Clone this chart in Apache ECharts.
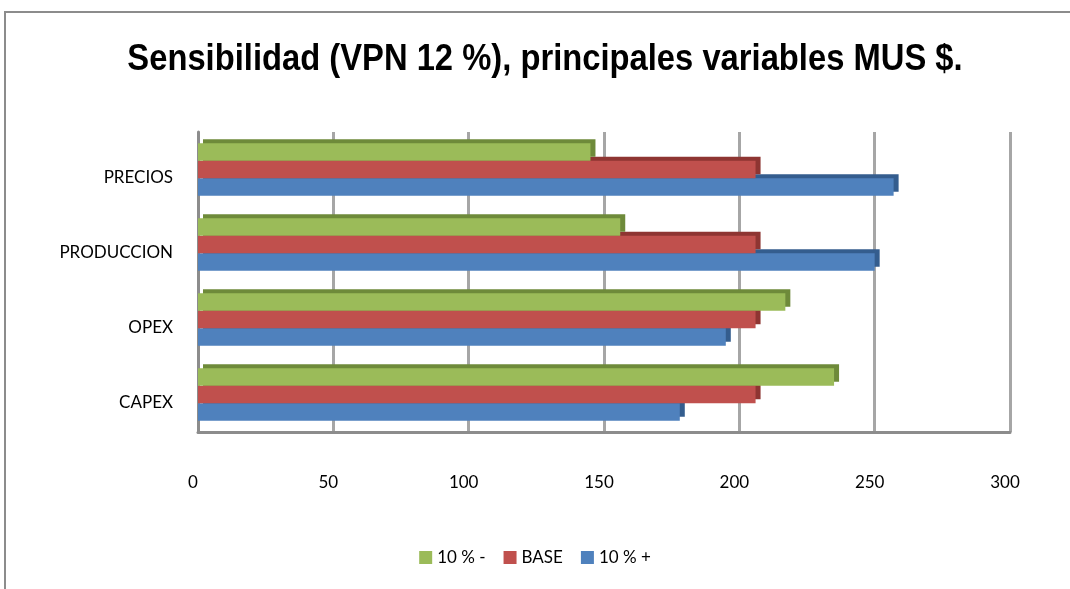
<!DOCTYPE html>
<html>
<head>
<meta charset="utf-8">
<script src="https://cdn.jsdelivr.net/npm/echarts@6/dist/echarts.min.js"></script>
<style>
  html, body { margin: 0; padding: 0; background: #ffffff; }
  #chart { width: 1070px; height: 589px; }
</style>
</head>
<body>
<div id="chart"></div>
<script>
// Sensitivity of NPV (12 %) to the main variables, in MUS $
var titleText = 'Sensibilidad (VPN 12 %), principales variables MUS $.';
var categories = ['CAPEX', 'OPEX', 'PRODUCCION', 'PRECIOS'];
var seriesNames = ['10 % -', 'BASE', '10 % +'];
var valuesMinus = [235, 217, 156, 145];   // 10 % -
var valuesBase  = [206, 206, 206, 206];   // BASE
var valuesPlus  = [178, 195, 250, 257];   // 10 % +
var axisTicks = [0, 50, 100, 150, 200, 250, 300];

var colors = {
  '10 % -': { face: '#9BBB59', side: '#6E8A3A' },
  'BASE':   { face: '#C0504D', side: '#8E3532' },
  '10 % +': { face: '#4F81BD', side: '#345D8E' }
};

// flat bar with a darker offset copy to suggest the top and end faces
function barSeries(name, data, z) {
  return {
    name: name,
    type: 'bar',
    data: data,
    z: z,
    barGap: '0%',
    barCategoryGap: '30%',
    itemStyle: {
      color: colors[name].face,
      shadowColor: colors[name].side,
      shadowBlur: 0,
      shadowOffsetX: 5,
      shadowOffsetY: -4
    },
    emphasis: { disabled: true }
  };
}

var labelFont = 'Lato, "Open Sans", sans-serif';

var chart = echarts.init(document.getElementById('chart'), null, { renderer: 'canvas' });

chart.setOption({
  animation: false,
  backgroundColor: '#ffffff',
  legend: {
    data: seriesNames,
    bottom: 18,
    left: 'center',
    itemWidth: 13,
    itemHeight: 13,
    itemGap: 18,
    icon: 'rect',
    textStyle: { fontFamily: labelFont, fontSize: 17, color: '#000000' }
  },
  grid: {
    left: 198,
    top: 132,
    width: 812,
    height: 300,
    containLabel: false
  },
  xAxis: {
    type: 'value',
    min: axisTicks[0],
    max: axisTicks[axisTicks.length - 1],
    interval: axisTicks[1] - axisTicks[0],
    axisLine: { show: true, lineStyle: { color: '#8c8c8c', width: 3 } },
    axisTick: { show: false },
    axisLabel: {
      margin: 42,
      fontFamily: labelFont,
      fontSize: 17,
      color: '#000000',
      padding: [0, 10, 0, 0]
    },
    splitLine: { show: true, lineStyle: { color: '#a6a6a6', width: 3 } }
  },
  yAxis: {
    type: 'category',
    inverse: true,
    data: categories.slice().reverse(),
    axisLine: { show: true, lineStyle: { color: '#8c8c8c', width: 3 } },
    axisTick: { show: false },
    axisLabel: {
      margin: 25,
      fontFamily: labelFont,
      fontSize: 17,
      color: '#000000',
      verticalAlign: 'top',
      lineHeight: 16
    }
  },
  graphic: [
    {
      type: 'polyline',
      shape: { points: [[5, 589], [5, 12], [1070, 12]] },
      style: { stroke: '#8c8c8c', lineWidth: 2, fill: null },
      silent: true
    },
    {
      type: 'text',
      x: 545,
      y: 60,
      scaleX: 0.885,
      style: {
        text: titleText,
        font: 'bold 37px "Liberation Sans", Arial, sans-serif',
        fill: '#000000',
        textAlign: 'center',
        textVerticalAlign: 'middle'
      },
      silent: true
    }
  ],
  series: [
    barSeries('10 % -', valuesMinus.slice().reverse(), 4),
    barSeries('BASE', valuesBase.slice().reverse(), 3),
    barSeries('10 % +', valuesPlus.slice().reverse(), 2)
  ]
});
</script>
</body>
</html>
